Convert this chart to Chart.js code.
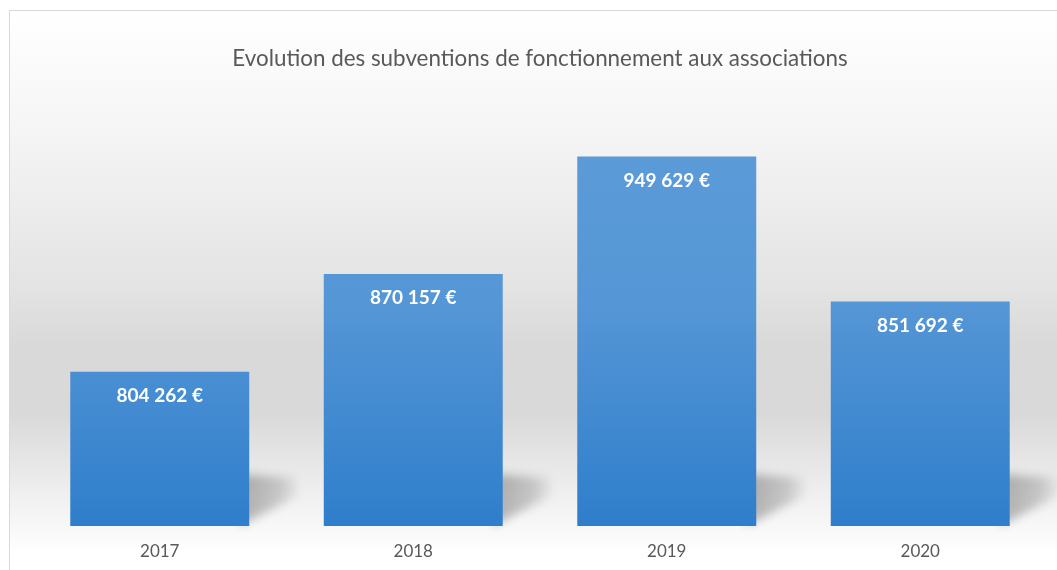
<!DOCTYPE html>
<html>
<head>
<meta charset="utf-8">
<script src="https://cdn.jsdelivr.net/npm/chart.js@4"></script>
<style>
  html, body { margin: 0; padding: 0; background: #fff; }
  #wrap { width: 1057px; height: 570px; }
</style>
</head>
<body>
<div id="wrap"><canvas id="chart"></canvas></div>
<script>
const years = ['2017', '2018', '2019', '2020'];
const subventions = [804262, 870157, 949629, 851692];
const titleText = 'Evolution des subventions de fonctionnement aux associations';

function euro(v) {
  return v.toLocaleString('fr-FR').replace(/\s/g, '\u202f') + ' €';
}

// fond gris dégradé + bordure du cadre
const frame = {
  id: 'frame',
  beforeDraw(chart) {
    const ctx = chart.ctx;
    const w = chart.width, h = chart.height;
    const g = ctx.createLinearGradient(0, 10, 0, h);
    g.addColorStop(0, '#ffffff');
    g.addColorStop(0.2, '#f6f6f6');
    g.addColorStop(0.5, '#e3e3e3');
    g.addColorStop(0.6, '#d9d9d9');
    g.addColorStop(0.72, '#d9d9d9');
    g.addColorStop(0.85, '#ededed');
    g.addColorStop(0.97, '#ffffff');
    ctx.save();
    ctx.fillStyle = g;
    ctx.fillRect(10, 10, w - 10, h - 10);
    ctx.strokeStyle = '#d9d9d9';
    ctx.lineWidth = 1;
    ctx.strokeRect(9.5, 10.5, w, h);
    ctx.restore();
  }
};

// ombre portée derrière chaque barre
const barShadow = {
  id: 'barShadow',
  beforeDatasetsDraw(chart) {
    const ctx = chart.ctx;
    const meta = chart.getDatasetMeta(0);
    // bar.base pointe sur 0, hors échelle : on prend le bas de la zone
    const base = chart.chartArea.bottom;
    ctx.save();
    ctx.filter = 'blur(5px)';
    meta.data.forEach(bar => {
      const xr = bar.x + bar.width / 2;
      const g = ctx.createLinearGradient(xr, 0, xr + 50, 0);
      g.addColorStop(0, 'rgba(0,0,0,0.26)');
      g.addColorStop(0.6, 'rgba(0,0,0,0.17)');
      g.addColorStop(1, 'rgba(0,0,0,0.02)');
      ctx.fillStyle = g;
      ctx.beginPath();
      ctx.moveTo(xr - 10, base - 52);
      ctx.lineTo(xr + 48, base - 48);
      ctx.lineTo(xr + 48, base - 30);
      ctx.lineTo(xr - 10, base);
      ctx.closePath();
      ctx.fill();
    });
    ctx.restore();
  }
};

// étiquettes de valeur en haut des barres
const valueLabels = {
  id: 'valueLabels',
  afterDatasetsDraw(chart) {
    const ctx = chart.ctx;
    const meta = chart.getDatasetMeta(0);
    ctx.save();
    ctx.fillStyle = '#ffffff';
    ctx.font = 'bold 19px Lato, "Open Sans", sans-serif';
    ctx.textAlign = 'center';
    ctx.textBaseline = 'middle';
    meta.data.forEach((bar, i) => {
      ctx.fillText(euro(subventions[i]), bar.x, bar.y + 24);
    });
    ctx.restore();
  }
};

new Chart(document.getElementById('chart'), {
  type: 'bar',
  data: {
    labels: years,
    datasets: [{
      data: subventions,
      backgroundColor: (c) => {
        const area = c.chart.chartArea;
        if (!area) return '#4a8fd3';
        const g = c.chart.ctx.createLinearGradient(0, area.top, 0, area.bottom);
        g.addColorStop(0, '#5d9dd8');
        g.addColorStop(0.5, '#5596d6');
        g.addColorStop(1, '#2f7ecb');
        return g;
      },
      borderWidth: 0,
      barPercentage: 0.706,
      categoryPercentage: 1
    }]
  },
  options: {
    responsive: true,
    maintainAspectRatio: false,
    animation: false,
    layout: { padding: { top: 10, left: 33, right: 10, bottom: 0 } },
    scales: {
      x: {
        grid: { display: false, drawTicks: false },
        border: { display: false },
        ticks: { color: '#595959', font: { size: 17, family: 'Lato, "Open Sans", sans-serif' }, padding: 15 },
        afterFit(scale) { scale.height = 44; }
      },
      y: {
        display: false,
        min: 700000,
        max: 1000000
      }
    },
    plugins: {
      legend: { display: false },
      tooltip: { enabled: false },
      title: {
        display: true,
        text: titleText,
        color: '#595959',
        font: { size: 22.4, weight: 'normal', family: 'Lato, "Open Sans", sans-serif' },
        padding: { top: 35, bottom: 10 }
      }
    }
  },
  plugins: [frame, barShadow, valueLabels]
});
</script>
</body>
</html>
